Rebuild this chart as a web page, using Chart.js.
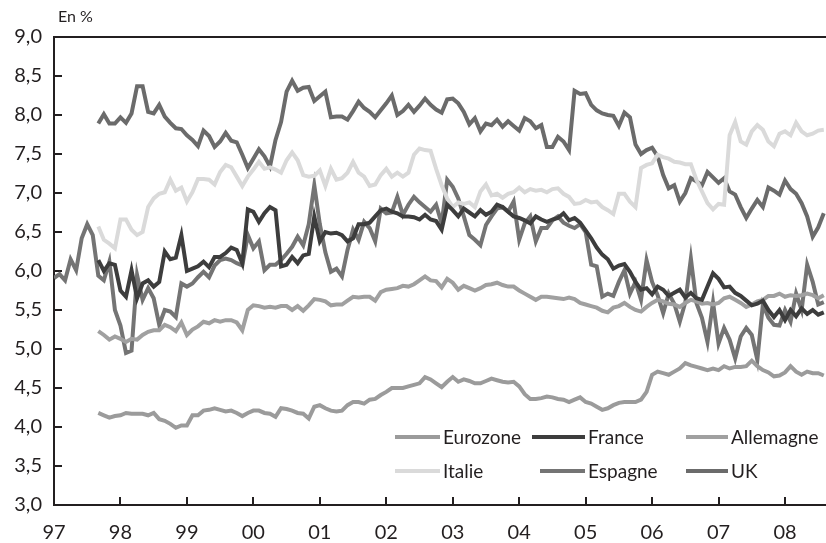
<!DOCTYPE html>
<html>
<head>
<meta charset="utf-8">
<script src="https://cdn.jsdelivr.net/npm/chart.js@4.4.1/dist/chart.umd.min.js"></script>
<style>
  body { margin: 0; background: #fff; }
  #wrap { position: relative; width: 826px; height: 543px; font-family: Lato, "Open Sans", sans-serif; color: #231f20; }
  #unit { position: absolute; left: 58px; top: 6px; font-size: 16px; }
  .leg { position: absolute; display: flex; align-items: center; height: 24px; font-size: 19px; line-height: 24px; white-space: nowrap; }
  .leg span.sw { display: inline-block; height: 4px; margin-right: 3px; }
</style>
</head>
<body>
<div id="wrap">
  <canvas id="chart" width="826" height="543"></canvas>
  <div id="unit">En %</div>
</div>
<script>
// months counted from January 1997; most series start in September 1997
const START_ESPAGNE = 0;
const START_OTHERS = 8;
const LAST_MONTH = 139.4;

const yearLabels = ["97", "98", "99", "00", "01", "02", "03", "04", "05", "06", "07", "08"];

const eurozone = [
  4.18, 4.15, 4.12, 4.14,
  4.15, 4.18, 4.17, 4.17, 4.17, 4.15, 4.18, 4.10, 4.08, 4.04, 3.99, 4.02,
  4.02, 4.15, 4.15, 4.21, 4.22, 4.24, 4.22, 4.20, 4.21, 4.18, 4.14, 4.18,
  4.21, 4.21, 4.18, 4.17, 4.13, 4.24, 4.23, 4.21, 4.18, 4.17, 4.11, 4.26,
  4.28, 4.24, 4.21, 4.20, 4.21, 4.28, 4.32, 4.32, 4.30, 4.35, 4.36, 4.41,
  4.45, 4.50, 4.50, 4.50, 4.52, 4.54, 4.56, 4.64, 4.61, 4.56, 4.51, 4.58,
  4.64, 4.58, 4.61, 4.59, 4.56, 4.56, 4.59, 4.62, 4.60, 4.58, 4.57, 4.58,
  4.52, 4.42, 4.36, 4.36, 4.37, 4.39, 4.38, 4.36, 4.35, 4.32, 4.35, 4.38,
  4.32, 4.30, 4.26, 4.22, 4.24, 4.28, 4.31, 4.32, 4.32, 4.32, 4.35, 4.45,
  4.67, 4.71, 4.69, 4.67, 4.71, 4.75, 4.82, 4.79, 4.77, 4.75, 4.73, 4.75,
  4.73, 4.78, 4.75, 4.77, 4.77, 4.78, 4.85, 4.78, 4.73, 4.70, 4.65, 4.66,
  4.70, 4.78, 4.71, 4.67, 4.71, 4.69, 4.69, 4.66
];

const france = [
  6.14, 6.00, 6.10, 6.08,
  5.75, 5.67, 6.01, 5.65, 5.84, 5.88, 5.80, 5.86, 6.25, 6.15, 6.17, 6.46,
  6.00, 6.03, 6.06, 6.12, 6.05, 6.18, 6.18, 6.23, 6.30, 6.27, 6.10, 6.79,
  6.76, 6.63, 6.74, 6.82, 6.78, 6.06, 6.08, 6.18, 6.10, 6.20, 6.22, 6.70,
  6.38, 6.50, 6.48, 6.49, 6.46, 6.38, 6.42, 6.60, 6.60, 6.62, 6.70, 6.78,
  6.80, 6.76, 6.74, 6.70, 6.70, 6.69, 6.66, 6.72, 6.66, 6.64, 6.53, 6.85,
  6.78, 6.70, 6.80, 6.75, 6.70, 6.78, 6.72, 6.76, 6.85, 6.82, 6.76, 6.70,
  6.68, 6.65, 6.61, 6.70, 6.66, 6.63, 6.66, 6.68, 6.74, 6.65, 6.68, 6.62,
  6.52, 6.42, 6.30, 6.21, 6.15, 6.03, 6.07, 6.09, 5.99, 5.86, 5.76, 5.78,
  5.70, 5.80, 5.76, 5.68, 5.72, 5.76, 5.66, 5.72, 5.65, 5.63, 5.80, 5.97,
  5.90, 5.79, 5.80, 5.72, 5.68, 5.62, 5.56, 5.58, 5.62, 5.50, 5.41, 5.50,
  5.37, 5.50, 5.42, 5.52, 5.45, 5.50, 5.44, 5.47
];

const allemagne = [
  5.23, 5.18, 5.12, 5.16,
  5.13, 5.09, 5.13, 5.12, 5.18, 5.22, 5.24, 5.24, 5.31, 5.28, 5.23, 5.34,
  5.18, 5.25, 5.29, 5.35, 5.33, 5.37, 5.35, 5.37, 5.37, 5.34, 5.24, 5.50,
  5.56, 5.55, 5.53, 5.54, 5.53, 5.55, 5.55, 5.50, 5.55, 5.49, 5.56, 5.64,
  5.63, 5.61, 5.56, 5.57, 5.57, 5.62, 5.67, 5.66, 5.67, 5.67, 5.62, 5.73,
  5.76, 5.77, 5.78, 5.81, 5.80, 5.83, 5.88, 5.93, 5.88, 5.87, 5.79, 5.90,
  5.85, 5.76, 5.81, 5.78, 5.75, 5.78, 5.82, 5.83, 5.85, 5.82, 5.80, 5.80,
  5.75, 5.71, 5.67, 5.63, 5.67, 5.67, 5.66, 5.65, 5.64, 5.66, 5.64, 5.59,
  5.57, 5.55, 5.53, 5.49, 5.47, 5.53, 5.55, 5.59, 5.54, 5.50, 5.48, 5.54,
  5.59, 5.63, 5.61, 5.58, 5.57, 5.54, 5.59, 5.63, 5.61, 5.58, 5.59, 5.57,
  5.59, 5.65, 5.67, 5.63, 5.59, 5.54, 5.57, 5.61, 5.63, 5.68, 5.68, 5.71,
  5.67, 5.69, 5.68, 5.69, 5.71, 5.69, 5.65, 5.69
];

const italie = [
  6.57, 6.40, 6.35, 6.29,
  6.66, 6.66, 6.53, 6.46, 6.50, 6.82, 6.93, 6.99, 7.01, 7.17, 7.03, 7.07,
  6.89, 7.01, 7.18, 7.18, 7.17, 7.11, 7.27, 7.36, 7.33, 7.21, 7.09, 7.21,
  7.30, 7.40, 7.31, 7.33, 7.30, 7.26, 7.42, 7.52, 7.42, 7.23, 7.21, 7.22,
  7.29, 7.09, 7.31, 7.17, 7.19, 7.26, 7.40, 7.26, 7.21, 7.09, 7.11, 7.23,
  7.31, 7.21, 7.26, 7.21, 7.26, 7.49, 7.57, 7.55, 7.54, 7.31, 7.10, 6.93,
  6.82, 6.88, 6.86, 6.88, 6.82, 7.02, 7.11, 6.97, 6.99, 6.94, 6.99, 7.01,
  7.07, 7.01, 7.05, 7.03, 7.04, 7.01, 7.05, 7.06, 6.99, 6.95, 6.86, 6.87,
  6.91, 6.88, 6.89, 6.82, 6.78, 6.73, 6.99, 6.99, 6.89, 6.82, 7.32, 7.36,
  7.38, 7.49, 7.46, 7.44, 7.40, 7.39, 7.37, 7.37, 7.17, 7.02, 6.87, 6.79,
  6.86, 6.85, 7.74, 7.91, 7.66, 7.62, 7.79, 7.87, 7.81, 7.66, 7.60, 7.76,
  7.79, 7.74, 7.90, 7.79, 7.74, 7.76, 7.80, 7.81
];

const espagne = [
  5.91, 5.96, 5.88, 6.15, 6.01, 6.42, 6.60, 6.46, 5.94, 5.88, 6.12, 5.50,
  5.30, 4.95, 4.98, 5.95, 5.63, 5.78, 5.65, 5.31, 5.50, 5.48, 5.41, 5.84,
  5.80, 5.84, 5.92, 5.99, 5.92, 6.07, 6.14, 6.16, 6.14, 6.10, 6.07, 6.46,
  6.29, 6.38, 6.01, 6.08, 6.08, 6.14, 6.22, 6.31, 6.44, 6.33, 6.60, 7.10,
  6.60, 6.24, 5.99, 6.03, 5.93, 6.27, 6.53, 6.40, 6.63, 6.55, 6.38, 6.80,
  6.74, 6.75, 6.95, 6.72, 6.85, 6.95, 6.88, 6.82, 6.76, 6.85, 6.61, 7.17,
  7.08, 6.93, 6.70, 6.46, 6.40, 6.33, 6.59, 6.70, 6.80, 6.82, 6.76, 6.89,
  6.40, 6.61, 6.70, 6.38, 6.55, 6.55, 6.65, 6.70, 6.62, 6.58, 6.55, 6.60,
  6.50, 6.08, 6.06, 5.67, 5.71, 5.68, 5.86, 6.01, 5.71, 5.86, 5.63, 6.14,
  5.86, 5.69, 5.46, 5.71, 5.58, 5.35, 5.60, 6.16, 5.59, 5.40, 5.09, 5.60,
  5.07, 5.27, 5.12, 4.88, 5.16, 5.27, 5.18, 4.86, 5.57, 5.40, 5.31, 5.30,
  5.50, 5.35, 5.71, 5.50, 6.08, 5.86, 5.57, 5.60
];

const uk = [
  7.89, 8.01, 7.89, 7.89,
  7.97, 7.90, 8.02, 8.37, 8.37, 8.04, 8.02, 8.13, 7.98, 7.90, 7.83, 7.82,
  7.74, 7.68, 7.60, 7.80, 7.73, 7.59, 7.66, 7.77, 7.67, 7.65, 7.49, 7.32,
  7.44, 7.56, 7.47, 7.34, 7.68, 7.91, 8.30, 8.44, 8.31, 8.35, 8.36, 8.18,
  8.24, 8.30, 7.97, 7.98, 7.98, 7.94, 8.05, 8.17, 8.09, 8.04, 7.97, 8.06,
  8.15, 8.25, 8.00, 8.05, 8.13, 8.04, 8.12, 8.21, 8.13, 8.07, 8.03, 8.20,
  8.21, 8.15, 8.04, 7.88, 7.96, 7.79, 7.89, 7.87, 7.94, 7.85, 7.92, 7.86,
  7.80, 7.96, 7.92, 7.83, 7.87, 7.59, 7.59, 7.72, 7.66, 7.55, 8.31, 8.27,
  8.28, 8.13, 8.06, 8.02, 8.00, 7.99, 7.86, 8.03, 7.97, 7.62, 7.50, 7.55,
  7.58, 7.47, 7.23, 7.06, 7.10, 6.89, 7.00, 7.19, 7.15, 7.10, 7.27, 7.20,
  7.13, 7.19, 7.02, 6.98, 6.82, 6.68, 6.80, 6.91, 6.82, 7.07, 7.03, 6.98,
  7.16, 7.05, 6.99, 6.87, 6.70, 6.44, 6.56, 6.74
];

const series = [
  { label: "Eurozone", values: eurozone, start: START_OTHERS, color: "#9b9b9b" },
  { label: "France", values: france, start: START_OTHERS, color: "#3d3d3d" },
  { label: "Allemagne", values: allemagne, start: START_OTHERS, color: "#a0a0a0" },
  { label: "Italie", values: italie, start: START_OTHERS, color: "#dadada" },
  { label: "Espagne", values: espagne, start: START_ESPAGNE, color: "#747474" },
  { label: "UK", values: uk, start: START_OTHERS, color: "#6b6b6b" },
];

// legend placement inside the plot, bottom right (3 columns x 2 rows)
const legendSlots = [
  { left: 395, top: 425, w: 45 },
  { left: 532, top: 425, w: 53 },
  { left: 686, top: 425, w: 42 },
  { left: 395, top: 459, w: 45 },
  { left: 540, top: 459, w: 45 },
  { left: 686, top: 459, w: 42 },
];

const TEXT = "#231f20";
const FONT = "Lato, 'Open Sans', sans-serif";

//============================
// inner tick marks + top frame line
//============================
const framePlugin = {
  id: "frame",
  beforeDatasetsDraw(chart) {
    const ctx = chart.ctx;
    const a = chart.chartArea;
    const x = chart.scales.x;
    const y = chart.scales.y;
    ctx.save();
    ctx.strokeStyle = "#231f20";
    ctx.lineWidth = 2;
    ctx.beginPath();
    ctx.moveTo(a.left, a.top);
    ctx.lineTo(a.right, a.top);
    x.ticks.forEach(function (t) {
      if (t.value > 0) {
        const px = Math.round(x.getPixelForValue(t.value));
        ctx.moveTo(px, a.bottom);
        ctx.lineTo(px, a.bottom - 8);
      }
    });
    y.ticks.forEach(function (t) {
      const py = Math.round(y.getPixelForValue(t.value));
      ctx.moveTo(a.left, py);
      ctx.lineTo(a.left + 8, py);
    });
    ctx.stroke();
    ctx.restore();
  },
};

const data = {
  datasets: series.map(function (s) {
    return {
      label: s.label,
      data: s.values.map(function (v, i) {
        return { x: s.start + i, y: v };
      }),
      borderColor: s.color,
      backgroundColor: s.color,
      borderWidth: 4,
      pointRadius: 0,
      tension: 0,
    };
  }),
};

const config = {
  type: "line",
  data: data,
  options: {
    responsive: false,
    animation: false,
    events: [],
    layout: { padding: { top: 37, right: 0, left: 0, bottom: 0 } },
    plugins: {
      legend: { display: false },
      tooltip: { enabled: false },
    },
    scales: {
      x: {
        type: "linear",
        min: 0,
        max: LAST_MONTH,
        grid: { display: false, drawTicks: false },
        border: { display: true, color: "#231f20", width: 2 },
        afterBuildTicks: function (scale) {
          scale.ticks = yearLabels.map(function (_, i) {
            return { value: i * 12 };
          });
        },
        afterFit: function (scale) {
          scale.height = 38;
        },
        ticks: {
          autoSkip: false,
          maxRotation: 0,
          padding: 16,
          color: TEXT,
          font: { family: FONT, size: 20 },
          callback: function (v) {
            return yearLabels[Math.round(v / 12)];
          },
        },
      },
      y: {
        min: 3,
        max: 9,
        grid: { display: false, drawTicks: false },
        border: { display: true, color: "#231f20", width: 2 },
        afterFit: function (scale) {
          scale.width = 54;
        },
        ticks: {
          stepSize: 0.5,
          padding: 12,
          color: TEXT,
          font: { family: FONT, size: 20 },
          callback: function (v) {
            return v.toFixed(1).replace(".", ",");
          },
        },
      },
    },
  },
  plugins: [framePlugin],
};

new Chart(document.getElementById("chart"), config);

// legend drawn as html over the plot
const wrap = document.getElementById("wrap");
series.forEach(function (s, i) {
  const slot = legendSlots[i];
  const item = document.createElement("div");
  item.className = "leg";
  item.style.left = slot.left + "px";
  item.style.top = slot.top + "px";
  const sw = document.createElement("span");
  sw.className = "sw";
  sw.style.width = slot.w + "px";
  sw.style.background = s.color;
  item.appendChild(sw);
  item.appendChild(document.createTextNode(s.label));
  wrap.appendChild(item);
});
</script>
</body>
</html>
